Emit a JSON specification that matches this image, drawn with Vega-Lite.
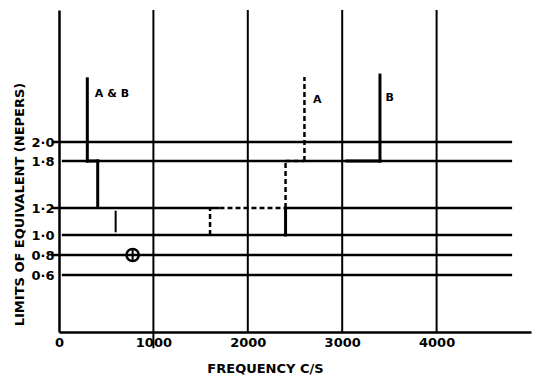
{
  "$schema": "https://vega.github.io/schema/vega-lite/v6.json",
  "width": 472,
  "height": 322,
  "autosize": {"type": "none"},
  "padding": {"left": 59, "top": 10, "right": 3, "bottom": 45},
  "background": "white",
  "config": {"view": {"stroke": null}, "font": "DejaVu Sans"},
  "datasets": {
    "segments": [
      {"series": "grid", "freq": -75, "freq_end": 4800, "neper": 2.0, "neper_end": 2.0},
      {"series": "grid", "freq": 30, "freq_end": 4800, "neper": 1.8, "neper_end": 1.8},
      {"series": "grid", "freq": -75, "freq_end": 1700, "neper": 1.2, "neper_end": 1.2},
      {"series": "grid", "freq": 2400, "freq_end": 4800, "neper": 1.2, "neper_end": 1.2},
      {"series": "grid", "freq": 30, "freq_end": 4800, "neper": 1.0, "neper_end": 1.0},
      {"series": "grid", "freq": -75, "freq_end": 4800, "neper": 0.8, "neper_end": 0.8},
      {"series": "grid", "freq": 30, "freq_end": 4800, "neper": 0.6, "neper_end": 0.6},
      {"series": "vgrid", "freq": 1000, "freq_end": 1000, "neper": -0.17, "neper_end": 3.4},
      {"series": "vgrid", "freq": 2000, "freq_end": 2000, "neper": 0, "neper_end": 3.4},
      {"series": "vgrid", "freq": 3000, "freq_end": 3000, "neper": 0, "neper_end": 3.4},
      {"series": "vgrid", "freq": 4000, "freq_end": 4000, "neper": 0, "neper_end": 3.4},
      {"series": "A & B", "freq": 300, "freq_end": 300, "neper": 1.8, "neper_end": 2.67},
      {"series": "A & B", "freq": 300, "freq_end": 410, "neper": 1.8, "neper_end": 1.8},
      {"series": "A & B", "freq": 410, "freq_end": 410, "neper": 1.8, "neper_end": 1.22},
      {"series": "A & B thin", "freq": 600, "freq_end": 600, "neper": 1.18, "neper_end": 1.02},
      {"series": "A", "freq": 1600, "freq_end": 1600, "neper": 1.0, "neper_end": 1.2},
      {"series": "A", "freq": 1700, "freq_end": 2400, "neper": 1.2, "neper_end": 1.2},
      {"series": "A", "freq": 2400, "freq_end": 2400, "neper": 1.2, "neper_end": 1.8},
      {"series": "A", "freq": 2400, "freq_end": 2600, "neper": 1.8, "neper_end": 1.8},
      {"series": "A", "freq": 2600, "freq_end": 2600, "neper": 1.8, "neper_end": 2.69},
      {"series": "B", "freq": 2400, "freq_end": 2400, "neper": 1.0, "neper_end": 1.2},
      {"series": "B", "freq": 3050, "freq_end": 3400, "neper": 1.8, "neper_end": 1.8},
      {"series": "B", "freq": 3400, "freq_end": 3400, "neper": 1.8, "neper_end": 2.71}
    ],
    "marker": [{"freq": 780, "neper": 0.8}],
    "labels": [
      {"freq": 380, "neper": 2.51, "text": "A & B"},
      {"freq": 2690, "neper": 2.45, "text": "A"},
      {"freq": 3460, "neper": 2.47, "text": "B"}
    ]
  },
  "layer": [
    {
      "data": {"name": "segments"},
      "transform": [{"filter": "datum.series === 'grid'"}],
      "mark": {"type": "rule", "color": "black", "strokeWidth": 2.5},
      "encoding": {
        "x": {
          "field": "freq", "type": "quantitative",
          "scale": {"domain": [0, 5000], "nice": false, "zero": false},
          "axis": {
            "title": "FREQUENCY C/S", "values": [0, 1000, 2000, 3000, 4000], "format": "d",
            "grid": false, "ticks": false, "domainColor": "black", "domainWidth": 2.5,
            "labelFont": "DejaVu Sans", "labelFontWeight": "bold", "labelFontSize": 13, "labelColor": "black",
            "labelPadding": 4, "labelFlush": false,
            "titleFont": "DejaVu Sans", "titleFontWeight": "bold", "titleFontSize": 13, "titleColor": "black",
            "titleX": 206, "titleY": 36, "titleBaseline": "middle", "titleAlign": "center"
          }
        },
        "x2": {"field": "freq_end"},
        "y": {
          "field": "neper", "type": "quantitative",
          "scale": {"domain": [0, 0.6, 0.8, 1.0, 1.2, 1.8, 2.0, 3.4], "range": [322, 265, 245, 225, 198, 151, 132, 0], "nice": false, "zero": false},
          "axis": {
            "title": "LIMITS OF EQUIVALENT (NEPERS)", "values": [0.6, 0.8, 1.0, 1.2, 1.8, 2.0],
            "labelExpr": "replace(format(datum.value, '.1f'), '.', '·')",
            "grid": false, "ticks": false, "domainColor": "black", "domainWidth": 2.5,
            "labelFont": "DejaVu Sans", "labelFontWeight": "bold", "labelFontSize": 13, "labelColor": "black",
            "labelPadding": 5,
            "titleFont": "DejaVu Sans", "titleFontWeight": "bold", "titleFontSize": 13, "titleColor": "black",
            "titleX": -40, "titleY": 194, "titleAngle": -90, "titleBaseline": "middle", "titleAlign": "center"
          }
        },
        "y2": {"field": "neper_end"}
      }
    },
    {
      "data": {"name": "segments"},
      "transform": [{"filter": "datum.series === 'vgrid'"}],
      "mark": {"type": "rule", "color": "black", "strokeWidth": 2},
      "encoding": {
        "x": {"field": "freq", "type": "quantitative"},
        "x2": {"field": "freq_end"},
        "y": {"field": "neper", "type": "quantitative"},
        "y2": {"field": "neper_end"}
      }
    },
    {
      "data": {"name": "segments"},
      "transform": [{"filter": "datum.series === 'A & B' || datum.series === 'B'"}],
      "mark": {"type": "rule", "color": "black", "strokeWidth": 3, "strokeCap": "square"},
      "encoding": {
        "x": {"field": "freq", "type": "quantitative"},
        "x2": {"field": "freq_end"},
        "y": {"field": "neper", "type": "quantitative"},
        "y2": {"field": "neper_end"}
      }
    },
    {
      "data": {"name": "segments"},
      "transform": [{"filter": "datum.series === 'A & B thin'"}],
      "mark": {"type": "rule", "color": "black", "strokeWidth": 2},
      "encoding": {
        "x": {"field": "freq", "type": "quantitative"},
        "x2": {"field": "freq_end"},
        "y": {"field": "neper", "type": "quantitative"},
        "y2": {"field": "neper_end"}
      }
    },
    {
      "data": {"name": "segments"},
      "transform": [{"filter": "datum.series === 'A'"}],
      "mark": {"type": "rule", "color": "black", "strokeWidth": 2.5, "strokeDash": [5, 3]},
      "encoding": {
        "x": {"field": "freq", "type": "quantitative"},
        "x2": {"field": "freq_end"},
        "y": {"field": "neper", "type": "quantitative"},
        "y2": {"field": "neper_end"}
      }
    },
    {
      "data": {"name": "marker"},
      "mark": {"type": "point", "shape": "circle", "size": 150, "filled": false, "color": "black", "strokeWidth": 2.5, "opacity": 1},
      "encoding": {
        "x": {"field": "freq", "type": "quantitative"},
        "y": {"field": "neper", "type": "quantitative"}
      }
    },
    {
      "data": {"name": "marker"},
      "mark": {"type": "point", "shape": "M-1,0H1M0,-1V1", "size": 150, "filled": false, "color": "black", "strokeWidth": 2, "opacity": 1},
      "encoding": {
        "x": {"field": "freq", "type": "quantitative"},
        "y": {"field": "neper", "type": "quantitative"}
      }
    },
    {
      "data": {"name": "labels"},
      "mark": {"type": "text", "align": "left", "baseline": "middle", "font": "DejaVu Sans", "fontWeight": "bold", "fontSize": 11, "color": "black"},
      "encoding": {
        "x": {"field": "freq", "type": "quantitative"},
        "y": {"field": "neper", "type": "quantitative"},
        "text": {"field": "text"}
      }
    }
  ]
}
